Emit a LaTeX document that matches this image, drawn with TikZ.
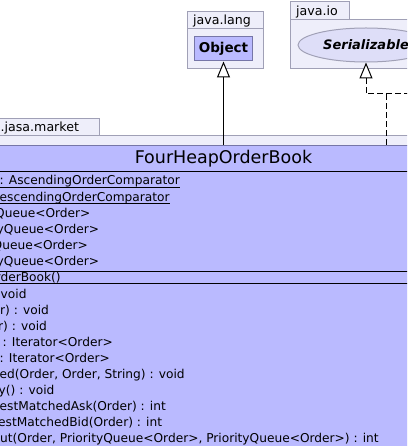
\documentclass[tikz,border=0pt]{standalone}
\usepackage{fontspec}
\setmainfont{DejaVu Sans}
\usepackage{tikz}
\usetikzlibrary{arrows.meta,shapes.geometric}
\definecolor{pkgfill}{RGB}{238,238,250}
\definecolor{pkgline}{RGB}{160,160,182}
\definecolor{classfill}{RGB}{186,186,255}
\definecolor{classline}{RGB}{118,118,168}
\definecolor{ifacefill}{RGB}{222,222,248}
\tikzstyle{pkg}      = [draw=pkgline, fill=pkgfill, line width=1pt]
\tikzstyle{pkgname}  = [anchor=base west, inner sep=0pt, font=\fontsize{12.6}{15}\selectfont]
\tikzstyle{member}   = [anchor=base west, inner sep=0pt, font=\fontsize{12.2}{15}\selectfont]
\tikzstyle{sep}      = [black, line width=1pt]
\tikzstyle{uline}    = [black, line width=0.8pt]
\tikzstyle{inherit}  = [line width=1pt, -{Triangle[length=16pt, width=13pt, fill=white]}]
\tikzstyle{realize}  = [inherit, dash pattern=on 6pt off 3pt]

\begin{document}
\begin{tikzpicture}[x=1pt, y=-1pt]
        \useasboundingbox (0,0) rectangle (407,446);
        \clip (0,0) rectangle (407,446);

        % packages
        \draw[pkg] (187,12) rectangle (263,29);
        \draw[pkg] (187,29) rectangle (263,69);
        \node[pkgname] (langname) at (193,25) {java.lang};
        \draw[pkg] (290,2) rectangle (349,20);
        \draw[pkg] (290,20) rectangle (420,69);
        \node[pkgname] (ioname) at (296,16) {java.io};
        \draw[pkg] (-10,119) rectangle (99,136);
        \draw[pkg] (-10,136) rectangle (420,460);
        \node[pkgname] (marketname) at (0.5,132) {.jasa.market};

        \node[draw=classline, fill=classfill, line width=1pt, minimum width=58pt, minimum height=24pt, inner sep=0pt, font=\fontsize{13.5}{15}\selectfont\bfseries] (object) at (223.5,49) {Object};
        \node[ellipse, draw=pkgline, fill=ifacefill, line width=1pt, minimum width=136pt, minimum height=34pt, inner sep=0pt, font=\fontsize{13}{15}\selectfont\bfseries\itshape] (serial) at (366,45) {Serializable};

        % the class
        \node[draw=classline, fill=classfill, line width=1pt, minimum width=846pt, minimum height=330pt, anchor=north] (book) at (223.5,145) {};
        \node[anchor=base, inner sep=0pt, font=\fontsize{17.5}{20}\selectfont] (title) at (223.5,164) {FourHeapOrderBook};
        \draw[sep] (-5,172) -- (412,172);
        \draw[sep] (-5,271.5) -- (412,271.5);
        \draw[sep] (-5,283.5) -- (412,283.5);

        \node[member] (a1) at (-0.5,185) {: AscendingOrderComparator};
        \node[member] (a2) at (-0.5,201) {escendingOrderComparator};
        \node[member] (a3) at (-5,217) {Queue<Order>};
        \node[member] (a4) at (-3.5,233) {yQueue<Order>};
        \node[member] (a5) at (-7.5,249) {Queue<Order>};
        \node[member] (a6) at (-3.5,265) {yQueue<Order>};
        \draw[uline] ([yshift=-2pt]a1.base east) -- ++(-200,0);
        \draw[uline] ([yshift=-2pt]a2.base east) -- ++(-200,0);

        \node[member] (c1) at (-4.5,281.5) {rderBook()};

        \node[member] (m1) at (0.5,298.5) {void};
        \node[member] (m2) at (0,314.5) {r) : void};
        \node[member] (m3) at (-2,330.5) {r) : void};
        \node[member] (m4) at (2.5,346.5) {: Iterator<Order>};
        \node[member] (m5) at (-0.5,362.5) {: Iterator<Order>};
        \node[member] (m6) at (-0.5,378.5) {ed(Order, Order, String) : void};
        \node[member] (m7) at (-1.5,394.5) {y() : void};
        \node[member] (m8) at (-0.5,410.5) {estMatchedAsk(Order) : int};
        \node[member] (m9) at (-2,426.5) {estMatchedBid(Order) : int};
        \node[member] (m10) at (0,442.5) {ut(Order, PriorityQueue<Order>, PriorityQueue<Order>) : int};

        % relations
        \coordinate (joint) at (386,94);
        \coordinate (offedge) at (412,94);
        \draw[inherit] (book.north) -- (object.south);
        \draw[realize] (book.north -| joint) -- (joint) -- (joint -| serial) -- (serial);
        \draw[line width=1pt, dash pattern=on 6pt off 3pt] (joint) -- (offedge);
\end{tikzpicture}
\end{document}
